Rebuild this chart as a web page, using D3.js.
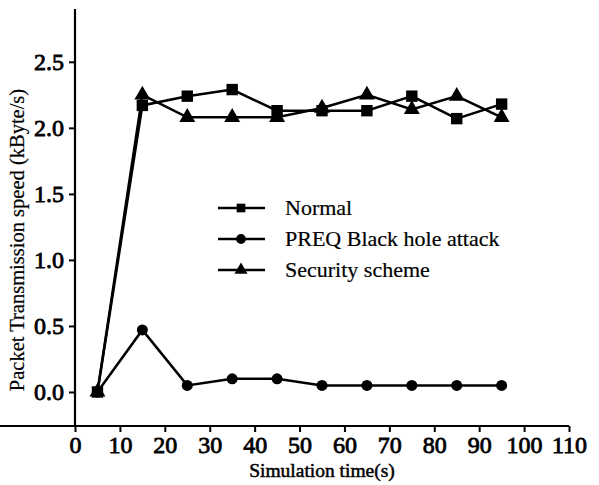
<!DOCTYPE html>
<html><head><meta charset="utf-8">
<script src="https://cdn.jsdelivr.net/npm/d3@7"></script>
<style>body{margin:0;background:#fff}svg{display:block}</style>
</head><body>
<svg id="c" width="599" height="485"></svg>
<script>
const times = [5, 15, 25, 35, 45, 55, 65, 75, 85, 95];
const normal = [0, 2.17, 2.24, 2.29, 2.13, 2.13, 2.13, 2.24, 2.07, 2.18];
const preq = [0, 0.47, 0.05, 0.10, 0.10, 0.05, 0.05, 0.05, 0.05, 0.05];
const security = [0, 2.25, 2.08, 2.08, 2.08, 2.15, 2.25, 2.14, 2.24, 2.08];
const xTicks = [0, 10, 20, 30, 40, 50, 60, 70, 80, 90, 100, 110];
const yTicks = [0, 0.5, 1.0, 1.5, 2.0, 2.5];
const seriesNames = ["Normal", "PREQ Black hole attack", "Security scheme"];

const svg = d3.select("#c");
const font = "Liberation Serif";
const x = d3.scaleLinear().domain([0, 110]).range([75, 569]);
const y = d3.scaleLinear().domain([-0.25, 2.9]).range([425, 9]);

const xAxis = svg.append("g").attr("transform", "translate(0,426)")
  .call(d3.axisBottom(x).tickValues(xTicks).tickFormat(d3.format("d")).tickSizeOuter(0).tickSize(6).tickPadding(4));
const yAxis = svg.append("g").attr("transform", "translate(75,0)")
  .call(d3.axisLeft(y).tickValues(yTicks).tickFormat(d3.format(".1f")).tickSizeOuter(0).tickSize(6).tickPadding(5));
[xAxis, yAxis].forEach(a => {
  a.attr("font-family", font);
  a.select(".domain").attr("stroke", "#000").attr("stroke-width", 2.2);
  a.selectAll(".tick line").attr("stroke", "#000").attr("stroke-width", 2);
  a.selectAll("text").attr("font-family", font).attr("font-size", 24).attr("fill", "#000")
    .attr("stroke", "#000").attr("stroke-width", 0.8);
});
yAxis.select(".domain").attr("d", `M0,${y(2.9)}V427`);
xAxis.select(".domain").attr("d", `M-1,0H${x(110)}`);

svg.append("text").attr("x", 322).attr("y", 477).attr("text-anchor", "middle")
  .attr("font-family", font).attr("font-size", 19.5).attr("stroke", "#000").attr("stroke-width", 0.5)
  .text("Simulation time(s)");
svg.append("text").attr("transform", "translate(24,240) rotate(-90)").attr("text-anchor", "middle")
  .attr("font-family", font).attr("font-size", 20.5).attr("stroke", "#000").attr("stroke-width", 0.2)
  .text("Packet Transmission speed (kByte/s)");

const line = d3.line().x(d => x(d[0])).y(d => y(d[1]));
const symSq = d3.symbol().type(d3.symbolSquare).size(130);
const symCi = d3.symbol().type(d3.symbolCircle).size(95);
const symTr = d3.symbol().type(d3.symbolTriangle).size(110);

function drawSeries(vals, sym) {
  const pts = times.map((t, i) => [t, vals[i]]);
  svg.append("path").datum(pts).attr("d", line).attr("fill", "none").attr("stroke", "#000").attr("stroke-width", 2.5);
  svg.append("g").selectAll("path").data(pts).join("path")
    .attr("transform", d => `translate(${x(d[0])},${y(d[1])})`).attr("d", sym).attr("fill", "#000");
}
drawSeries(security, symTr);
drawSeries(preq, symCi);
drawSeries(normal, symSq);

const syms = [symSq, symCi, symTr];
const lg = svg.append("g");
seriesNames.forEach((n, i) => {
  const yy = 208 + i * 31;
  lg.append("line").attr("x1", 218).attr("x2", 265).attr("y1", yy).attr("y2", yy).attr("stroke", "#000").attr("stroke-width", 2.5);
  lg.append("path").attr("transform", `translate(241,${yy})`).attr("d", syms[i].size(75)()).attr("fill", "#000");
  lg.append("text").attr("x", 285).attr("y", yy + 7).attr("font-family", font).attr("font-size", 22)
    .attr("stroke", "#000").attr("stroke-width", 0.2).text(n);
});
</script>
</body></html>
